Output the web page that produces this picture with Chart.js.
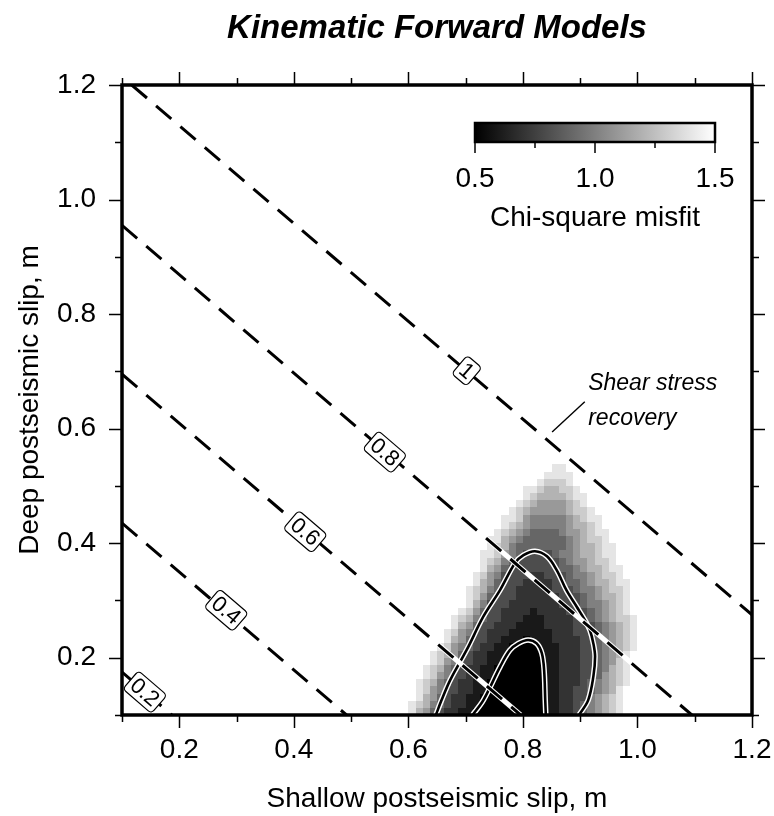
<!DOCTYPE html>
<html>
<head>
<meta charset="utf-8">
<title>Kinematic Forward Models</title>
<script src="https://cdn.jsdelivr.net/npm/chart.js@4.4.1/dist/chart.umd.min.js"></script>
<style>
  html, body { margin: 0; padding: 0; background: #fff; }
  #wrap { width: 774px; height: 816px; }
</style>
</head>
<body>
<div id="wrap"><canvas id="chart" width="774" height="816"></canvas></div>
<script>
// axis ticks
const xTickLabels = [0.2, 0.4, 0.6, 0.8, 1.0, 1.2];
const yTickLabels = [0.2, 0.4, 0.6, 0.8, 1.0, 1.2];
const minorTicks = [0.1, 0.3, 0.5, 0.7, 0.9, 1.1];

// shear stress recovery (dashed lines), end points
const recoveryLevels = ['0.2', '0.4', '0.6', '0.8', '1'];
const recoveryStartX = [0.1, 0.1, 0.1, 0.1, 0.117];
const recoveryStartY = [0.175, 0.435, 0.695, 0.955, 1.2];
const recoveryEndX = [0.187, 0.492, 0.796, 1.095, 1.2];
const recoveryEndY = [0.1, 0.1, 0.1, 0.1, 0.275];
const recoveryLabelX = [0.14, 0.282, 0.42, 0.559, 0.702];
const recoveryLabelY = [0.14, 0.283, 0.42, 0.559, 0.701];

// misfit contours (white edged)
const outerX = [0.648, 0.658, 0.673, 0.702, 0.731, 0.760, 0.786, 0.801, 0.821, 0.842, 0.859, 0.876, 0.894, 0.908, 0.917, 0.923, 0.926, 0.923, 0.914, 0.898];
const outerY = [0.100, 0.126, 0.161, 0.214, 0.272, 0.318, 0.365, 0.379, 0.386, 0.377, 0.353, 0.318, 0.289, 0.266, 0.248, 0.225, 0.202, 0.167, 0.126, 0.100];
const innerX = [0.712, 0.731, 0.760, 0.777, 0.792, 0.809, 0.824, 0.833, 0.837, 0.839, 0.840];
const innerY = [0.100, 0.126, 0.184, 0.213, 0.225, 0.231, 0.225, 0.208, 0.179, 0.126, 0.100];

// chi-square misfit grid, bottom row first, cells of gridStep from (gridX0, gridY0)
// digit d -> misfit 0.5 + 0.1*d, '.' -> 1.5 or more
const gridX0 = 0.55, gridY0 = 0.1, gridStep = 0.0125;
const misfitRows = [
  '....976432' + '2110000000' + '0001122345' + '6789......',
  '....987543' + '2211000000' + '0001122345' + '6789......',
  '.....97643' + '2211000000' + '0001122335' + '6789......',
  '.....98653' + '3221100000' + '0001122334' + '5679......',
  '.....98754' + '3221100000' + '0001122234' + '56789.....',
  '......9865' + '3322110000' + '0001122233' + '46789.....',
  '......9875' + '4322110000' + '0001122233' + '45789.....',
  '.......986' + '5332211000' + '0001122233' + '45689.....',
  '.......987' + '6432211100' + '0001122233' + '45679.....',
  '........98' + '6543221100' + '0011122233' + '456789....',
  '.........9' + '7643322111' + '0111222233' + '456789....',
  '.........9' + '8653322211' + '1111222333' + '456789....',
  '..........' + '9764332221' + '1112222333' + '456789....',
  '..........' + '9875433222' + '1112222334' + '567889....',
  '..........' + '.986433222' + '2122223334' + '56789.....',
  '..........' + '..97533322' + '2222233345' + '56789.....',
  '..........' + '..98643332' + '2222233345' + '67789.....',
  '..........' + '..98754332' + '2222333455' + '67889.....',
  '..........' + '...9764333' + '2222334456' + '77899.....',
  '..........' + '...9865333' + '3223334556' + '7889......',
  '..........' + '....976433' + '3333344567' + '7899......',
  '..........' + '....987543' + '3333345667' + '889.......',
  '..........' + '....998654' + '3333455677' + '899.......',
  '..........' + '.....98754' + '4444445677' + '899.......',
  '..........' + '.....99765' + '4444445678' + '89........',
  '..........' + '......9876' + '5444456678' + '99........',
  '..........' + '.......987' + '6555556778' + '9.........',
  '..........' + '.......998' + '6555556789' + '9.........',
  '..........' + '........98' + '7666667889' + '..........',
  '..........' + '.........9' + '876666789.' + '..........',
  '..........' + '..........' + '987777899.' + '..........',
  '..........' + '..........' + '99877889..' + '..........',
  '..........' + '..........' + '..98889...' + '..........',
  '..........' + '..........' + '...9999...' + '..........',
  '..........' + '..........' + '....99....' + '..........'
];

// colorbar
const colorbarTicks = [0.5, 1.0, 1.5];
const colorbarMinor = [0.75, 1.25];

// annotation
const noteLines = ['Shear stress', 'recovery'];
const noteX = 0.914;
const noteY = [0.6675, 0.606];
const leaderX = [0.908, 0.851];
const leaderY = [0.647, 0.594];

const FONT = '"Liberation Sans", Arial, Helvetica, sans-serif';

function grayFor(v) {
  const t = Math.max(0, Math.min(1, (v - 0.5) / 1.0));
  return Math.round(t * 255);
}

const misfitGrid = {
  id: 'misfitGrid',
  beforeDatasetsDraw(chart) {
    const {ctx, chartArea, scales: {x, y}} = chart;
    ctx.save();
    ctx.beginPath();
    ctx.rect(chartArea.left, chartArea.top, chartArea.width, chartArea.height);
    ctx.clip();
    misfitRows.forEach((row, j) => {
      const yb = Math.round(y.getPixelForValue(gridY0 + j * gridStep));
      const yt = Math.round(y.getPixelForValue(gridY0 + (j + 1) * gridStep));
      for (let i = 0; i < row.length; i++) {
        const c = row[i];
        if (c === '.') continue;
        const g = grayFor(0.5 + 0.1 * Number(c));
        const x0 = Math.round(x.getPixelForValue(gridX0 + i * gridStep));
        const x1 = Math.round(x.getPixelForValue(gridX0 + (i + 1) * gridStep));
        ctx.fillStyle = 'rgb(' + g + ',' + g + ',' + g + ')';
        ctx.fillRect(x0, yt, x1 - x0, yb - yt);
      }
    });
    ctx.restore();
  }
};

const recoveryLabels = {
  id: 'recoveryLabels',
  afterDatasetsDraw(chart) {
    const {ctx, chartArea, scales: {x, y}} = chart;
    ctx.save();
    ctx.beginPath();
    ctx.rect(chartArea.left, chartArea.top, chartArea.width, chartArea.height);
    ctx.clip();
    ctx.font = '22px ' + FONT;
    recoveryLevels.forEach((txt, k) => {
      const ang = Math.atan2(
        y.getPixelForValue(recoveryEndY[k]) - y.getPixelForValue(recoveryStartY[k]),
        x.getPixelForValue(recoveryEndX[k]) - x.getPixelForValue(recoveryStartX[k]));
      const px = x.getPixelForValue(recoveryLabelX[k]);
      const py = y.getPixelForValue(recoveryLabelY[k]);
      ctx.save();
      ctx.translate(px, py);
      ctx.rotate(ang);
      const w = ctx.measureText(txt).width + 7, h = 24;
      ctx.beginPath();
      ctx.roundRect(-w / 2, -h / 2, w, h, 4);
      ctx.fillStyle = '#fff';
      ctx.fill();
      ctx.lineWidth = 1.2;
      ctx.strokeStyle = '#000';
      ctx.stroke();
      ctx.fillStyle = '#000';
      ctx.textAlign = 'center';
      ctx.textBaseline = 'middle';
      ctx.fillText(txt, 0, 1);
      ctx.restore();
    });
    ctx.restore();

    // annotation text
    ctx.save();
    ctx.font = 'italic 23px ' + FONT;
    ctx.fillStyle = '#000';
    ctx.textAlign = 'left';
    ctx.textBaseline = 'alphabetic';
    noteLines.forEach((t, k) => {
      ctx.fillText(t, x.getPixelForValue(noteX), y.getPixelForValue(noteY[k]));
    });
    ctx.restore();
  }
};

const frameAndTicks = {
  id: 'frameAndTicks',
  afterDraw(chart) {
    const {ctx, chartArea: a, scales: {x, y}} = chart;
    ctx.save();
    ctx.strokeStyle = '#000';
    ctx.lineWidth = 1.5;
    const tick = (vals, len) => {
      vals.forEach(v => {
        const px = Math.round(x.getPixelForValue(v)) + 0.5;
        ctx.beginPath();
        ctx.moveTo(px, a.bottom); ctx.lineTo(px, a.bottom + len);
        ctx.moveTo(px, a.top); ctx.lineTo(px, a.top - len);
        ctx.stroke();
        const py = Math.round(y.getPixelForValue(v)) + 0.5;
        ctx.beginPath();
        ctx.moveTo(a.left, py); ctx.lineTo(a.left - len, py);
        ctx.moveTo(a.right, py); ctx.lineTo(a.right + len, py);
        ctx.stroke();
      });
    };
    tick(xTickLabels, 13);
    tick(minorTicks, 7);
    ctx.lineWidth = 3.5;
    ctx.strokeRect(a.left, a.top, a.right - a.left, a.bottom - a.top);
    ctx.restore();

    // colorbar
    const cbLeft = 475, cbTop = 123, cbW = 240, cbH = 19;
    const lo = colorbarTicks[0], hi = colorbarTicks[colorbarTicks.length - 1];
    const cbPix = v => cbLeft + (v - lo) / (hi - lo) * cbW;
    ctx.save();
    const grad = ctx.createLinearGradient(cbLeft, 0, cbLeft + cbW, 0);
    const gLo = grayFor(lo), gHi = grayFor(hi);
    grad.addColorStop(0, 'rgb(' + gLo + ',' + gLo + ',' + gLo + ')');
    grad.addColorStop(1, 'rgb(' + gHi + ',' + gHi + ',' + gHi + ')');
    ctx.fillStyle = grad;
    ctx.fillRect(cbLeft, cbTop, cbW, cbH);
    ctx.lineWidth = 2.5;
    ctx.strokeStyle = '#000';
    ctx.strokeRect(cbLeft, cbTop, cbW, cbH);
    ctx.lineWidth = 1.5;
    colorbarTicks.forEach(v => {
      ctx.beginPath(); ctx.moveTo(cbPix(v), cbTop + cbH); ctx.lineTo(cbPix(v), cbTop + cbH + 11); ctx.stroke();
    });
    colorbarMinor.forEach(v => {
      ctx.beginPath(); ctx.moveTo(cbPix(v), cbTop + cbH); ctx.lineTo(cbPix(v), cbTop + cbH + 6); ctx.stroke();
    });
    ctx.fillStyle = '#000';
    ctx.font = '28px ' + FONT;
    ctx.textAlign = 'center';
    ctx.textBaseline = 'middle';
    colorbarTicks.forEach(v => ctx.fillText(v.toFixed(1), cbPix(v), 179));
    ctx.fillText('Chi-square misfit', cbLeft + cbW / 2, 218);
    ctx.restore();
  }
};

const pts = (xs, ys) => xs.map((v, i) => ({x: v, y: ys[i]}));
const lineBase = {showLine: true, pointRadius: 0, pointHoverRadius: 0, fill: false};

const datasets = [
  Object.assign({}, lineBase, {data: pts(outerX, outerY), borderColor: '#fff', borderWidth: 5.5, tension: 0.35, order: 6}),
  Object.assign({}, lineBase, {data: pts(outerX, outerY), borderColor: '#000', borderWidth: 2.6, tension: 0.35, order: 5}),
  Object.assign({}, lineBase, {data: pts(innerX, innerY), borderColor: '#fff', borderWidth: 5.5, tension: 0.35, order: 6}),
  Object.assign({}, lineBase, {data: pts(innerX, innerY), borderColor: '#000', borderWidth: 2.6, tension: 0.35, order: 5})
];
recoveryLevels.forEach((lvl, k) => {
  const d = [{x: recoveryStartX[k], y: recoveryStartY[k]}, {x: recoveryEndX[k], y: recoveryEndY[k]}];
  datasets.push(Object.assign({}, lineBase, {data: d, borderColor: '#fff', borderWidth: 5, order: 4}));
  datasets.push(Object.assign({}, lineBase, {data: d, borderColor: '#000', borderWidth: 3, borderDash: [20, 12], borderCapStyle: 'butt', order: 3}));
});
datasets.push(Object.assign({}, lineBase, {data: pts(leaderX, leaderY), borderColor: '#000', borderWidth: 1.4, order: 2}));

const tickFont = {family: FONT, size: 28};

new Chart(document.getElementById('chart'), {
  type: 'scatter',
  data: {datasets: datasets},
  options: {
    responsive: false,
    animation: false,
    layout: {padding: {left: 0, right: 22, top: 0, bottom: 0}},
    plugins: {
      legend: {display: false},
      tooltip: {enabled: false},
      title: {
        display: true,
        fullSize: false,
        text: 'Kinematic Forward Models',
        color: '#000',
        font: {family: FONT, size: 33, weight: 'bold', style: 'italic'},
        padding: {top: 9, bottom: 36.4}
      }
    },
    scales: {
      x: {
        type: 'linear', min: 0.1, max: 1.2,
        afterBuildTicks: s => { s.ticks = xTickLabels.map(v => ({value: v})); },
        afterFit: s => { s.height = 101; s.paddingLeft = 0; s.paddingRight = 0; },
        grid: {display: false, drawTicks: false},
        border: {display: false},
        ticks: {color: '#000', font: tickFont, padding: 18, autoSkip: false, maxRotation: 0, callback: v => Number(v).toFixed(1)},
        title: {display: true, text: 'Shallow postseismic slip, m', color: '#000', font: tickFont, padding: {top: 0, bottom: 0}}
      },
      y: {
        type: 'linear', min: 0.1, max: 1.2,
        afterBuildTicks: s => { s.ticks = yTickLabels.map(v => ({value: v})); },
        afterFit: s => { s.width = 122; s.paddingTop = 0; s.paddingBottom = 0; },
        grid: {display: false, drawTicks: false},
        border: {display: false},
        ticks: {color: '#000', font: tickFont, padding: 26, autoSkip: false, callback: v => Number(v).toFixed(1)},
        title: {display: true, text: 'Deep postseismic slip, m', color: '#000', font: tickFont, padding: {top: 13, bottom: 0}}
      }
    }
  },
  plugins: [misfitGrid, recoveryLabels, frameAndTicks]
});
</script>
</body>
</html>
